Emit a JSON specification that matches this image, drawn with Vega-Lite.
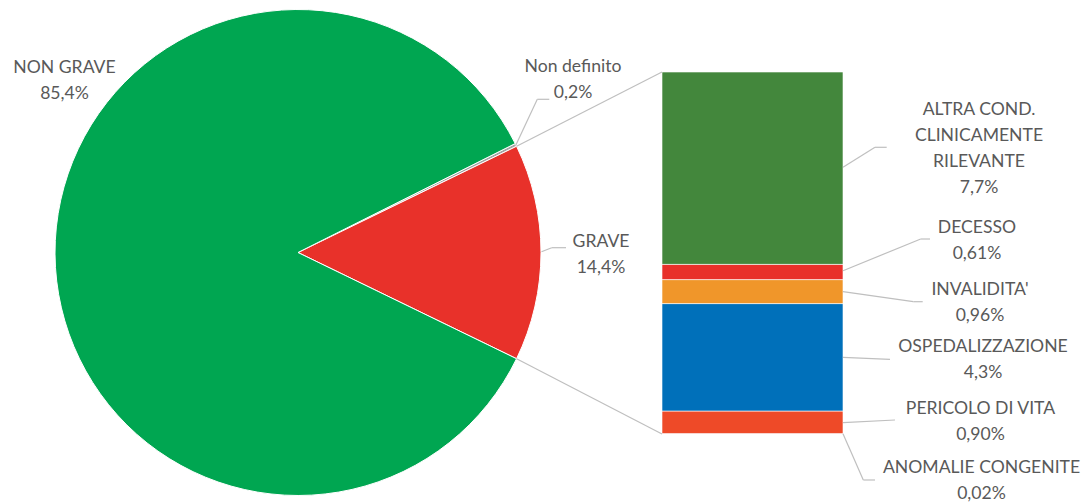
{
  "$schema": "https://vega.github.io/schema/vega-lite/v6.json",
  "width": 1089,
  "height": 504,
  "padding": 0,
  "autosize": {"type": "none"},
  "background": "white",
  "config": {
    "view": {"stroke": null},
    "axis": {"disable": true, "domain": false, "ticks": false, "labels": false, "grid": false},
    "text": {"font": "Lato", "fontSize": 17.6, "color": "#595959", "align": "center", "baseline": "middle", "lineBreak": "\n", "lineHeight": 26},
    "rule": {"color": "#BFBFBF", "strokeWidth": 1.2}
  },
  "datasets": {
    "pie": [
      {"cat": "Non definito", "value": 0.2, "idx": 1, "label": "Non definito\n0,2%"},
      {"cat": "GRAVE", "value": 14.4, "idx": 2, "label": "GRAVE\n14,4%"},
      {"cat": "NON GRAVE", "value": 85.4, "idx": 3, "label": "NON GRAVE\n85,4%"}
    ],
    "bar": [
      {"cat": "ANOMALIE CONGENITE", "value": 0.02, "idx": 1, "label": "ANOMALIE CONGENITE\n0,02%"},
      {"cat": "PERICOLO DI VITA", "value": 0.90, "idx": 2, "label": "PERICOLO DI VITA\n0,90%"},
      {"cat": "OSPEDALIZZAZIONE", "value": 4.3, "idx": 3, "label": "OSPEDALIZZAZIONE\n4,3%"},
      {"cat": "INVALIDITA'", "value": 0.96, "idx": 4, "label": "INVALIDITA'\n0,96%"},
      {"cat": "DECESSO", "value": 0.61, "idx": 5, "label": "DECESSO\n0,61%"},
      {"cat": "ALTRA COND. CLINICAMENTE RILEVANTE", "value": 7.7, "idx": 6, "label": "ALTRA COND.\nCLINICAMENTE\nRILEVANTE\n7,7%"}
    ]
  },
  "layer": [
    {
      "data": {"name": "pie"},
      "mark": {"type": "arc", "x": 298, "y": 252.5, "outerRadius": 243, "stroke": "white", "strokeWidth": 1},
      "encoding": {
        "theta": {"field": "value", "type": "quantitative", "stack": true, "scale": {"range": [1.10584, 7.38903]}},
        "order": {"field": "idx", "type": "quantitative"},
        "color": {
          "field": "cat", "type": "nominal", "legend": null,
          "scale": {
            "domain": ["Non definito", "GRAVE", "NON GRAVE", "ANOMALIE CONGENITE", "PERICOLO DI VITA", "OSPEDALIZZAZIONE", "INVALIDITA'", "DECESSO", "ALTRA COND. CLINICAMENTE RILEVANTE"],
            "range": ["#A6A6A6", "#E8312A", "#00A651", "#7F3F98", "#EE4A28", "#0070BA", "#F0962A", "#E8302A", "#43873C"]
          }
        }
      }
    },
    {
      "data": {"name": "bar"},
      "transform": [{"stack": "value", "groupby": [], "sort": [{"field": "idx", "order": "ascending"}], "as": ["v0", "v1"]}],
      "mark": {"type": "bar", "stroke": "white", "strokeWidth": 0.6},
      "encoding": {
        "x": {"datum": 662, "type": "quantitative", "axis": null, "scale": {"domain": [0, 1089], "nice": false, "zero": false}},
        "x2": {"datum": 843},
        "y": {"field": "v0", "type": "quantitative", "axis": null, "scale": {"domain": [-2.802, 17.372], "nice": false, "zero": false}},
        "y2": {"field": "v1"},
        "color": {"field": "cat", "type": "nominal", "legend": null}
      }
    },
    {"data": {"values": [{}]}, "mark": {"type": "rule"}, "encoding": {"x": {"datum": 516.6}, "y": {"datum": 11.516}, "x2": {"datum": 662}, "y2": {"datum": 14.49}}},
    {"data": {"values": [{}]}, "mark": {"type": "rule"}, "encoding": {"x": {"datum": 516.6}, "y": {"datum": 3.014}, "x2": {"datum": 662}, "y2": {"datum": 0}}},

    {"data": {"values": [{}]}, "mark": {"type": "rule"}, "encoding": {"x": {"datum": 515.9}, "y": {"datum": 11.572}, "x2": {"datum": 537.3}, "y2": {"datum": 13.397}}},
    {"data": {"values": [{}]}, "mark": {"type": "rule"}, "encoding": {"x": {"datum": 537.3}, "y": {"datum": 13.397}, "x2": {"datum": 549.3}, "y2": {"datum": 13.397}}},
    {"data": {"values": [{}]}, "mark": {"type": "rule"}, "encoding": {"x": {"datum": 541.5}, "y": {"datum": 7.297}, "x2": {"datum": 551.7}, "y2": {"datum": 7.457}}},
    {"data": {"values": [{}]}, "mark": {"type": "rule"}, "encoding": {"x": {"datum": 551.7}, "y": {"datum": 7.457}, "x2": {"datum": 566}, "y2": {"datum": 7.457}}},

    {"data": {"values": [{}]}, "mark": {"type": "rule"}, "encoding": {"x": {"datum": 843}, "y": {"datum": 10.675}, "x2": {"datum": 875}, "y2": {"datum": 11.476}}},
    {"data": {"values": [{}]}, "mark": {"type": "rule"}, "encoding": {"x": {"datum": 875}, "y": {"datum": 11.476}, "x2": {"datum": 886.7}, "y2": {"datum": 11.476}}},
    {"data": {"values": [{}]}, "mark": {"type": "rule"}, "encoding": {"x": {"datum": 843}, "y": {"datum": 6.536}, "x2": {"datum": 920.7}, "y2": {"datum": 7.805}}},
    {"data": {"values": [{}]}, "mark": {"type": "rule"}, "encoding": {"x": {"datum": 920.7}, "y": {"datum": 7.805}, "x2": {"datum": 930}, "y2": {"datum": 7.805}}},
    {"data": {"values": [{}]}, "mark": {"type": "rule"}, "encoding": {"x": {"datum": 843}, "y": {"datum": 5.696}, "x2": {"datum": 913.3}, "y2": {"datum": 5.296}}},
    {"data": {"values": [{}]}, "mark": {"type": "rule"}, "encoding": {"x": {"datum": 913.3}, "y": {"datum": 5.296}, "x2": {"datum": 922.7}, "y2": {"datum": 5.296}}},
    {"data": {"values": [{}]}, "mark": {"type": "rule"}, "encoding": {"x": {"datum": 843}, "y": {"datum": 3.07}, "x2": {"datum": 890}, "y2": {"datum": 2.99}}},
    {"data": {"values": [{}]}, "mark": {"type": "rule"}, "encoding": {"x": {"datum": 843}, "y": {"datum": 0.452}, "x2": {"datum": 895}, "y2": {"datum": 0.56}}},
    {"data": {"values": [{}]}, "mark": {"type": "rule"}, "encoding": {"x": {"datum": 843}, "y": {"datum": 0.01}, "x2": {"datum": 863.3}, "y2": {"datum": -1.841}}},
    {"data": {"values": [{}]}, "mark": {"type": "rule"}, "encoding": {"x": {"datum": 863.3}, "y": {"datum": -1.841}, "x2": {"datum": 875}, "y2": {"datum": -1.841}}},

    {"data": {"name": "pie"}, "transform": [{"filter": "datum.cat === 'NON GRAVE'"}], "mark": {"type": "text"}, "encoding": {"x": {"datum": 64.5}, "y": {"datum": 14.65}, "text": {"field": "label"}}},
    {"data": {"name": "pie"}, "transform": [{"filter": "datum.cat === 'Non definito'"}], "mark": {"type": "text"}, "encoding": {"x": {"datum": 573}, "y": {"datum": 14.69}, "text": {"field": "label"}}},
    {"data": {"name": "pie"}, "transform": [{"filter": "datum.cat === 'GRAVE'"}], "mark": {"type": "text"}, "encoding": {"x": {"datum": 601}, "y": {"datum": 7.685}, "text": {"field": "label"}}},
    {"data": {"name": "bar"}, "transform": [{"filter": "datum.idx === 6"}], "mark": {"type": "text"}, "encoding": {"x": {"datum": 979}, "y": {"datum": 12.969}, "text": {"field": "label"}}},
    {"data": {"name": "bar"}, "transform": [{"filter": "datum.idx === 5"}], "mark": {"type": "text"}, "encoding": {"x": {"datum": 977}, "y": {"datum": 8.234}, "text": {"field": "label"}}},
    {"data": {"name": "bar"}, "transform": [{"filter": "datum.idx === 4"}], "mark": {"type": "text"}, "encoding": {"x": {"datum": 980}, "y": {"datum": 5.764}, "text": {"field": "label"}}},
    {"data": {"name": "bar"}, "transform": [{"filter": "datum.idx === 3"}], "mark": {"type": "text"}, "encoding": {"x": {"datum": 983}, "y": {"datum": 3.47}, "text": {"field": "label"}}},
    {"data": {"name": "bar"}, "transform": [{"filter": "datum.idx === 2"}], "mark": {"type": "text"}, "encoding": {"x": {"datum": 980.5}, "y": {"datum": 0.988}, "text": {"field": "label"}}},
    {"data": {"name": "bar"}, "transform": [{"filter": "datum.idx === 1"}], "mark": {"type": "text"}, "encoding": {"x": {"datum": 981.5}, "y": {"datum": -1.373}, "text": {"field": "label"}}}
  ]
}
